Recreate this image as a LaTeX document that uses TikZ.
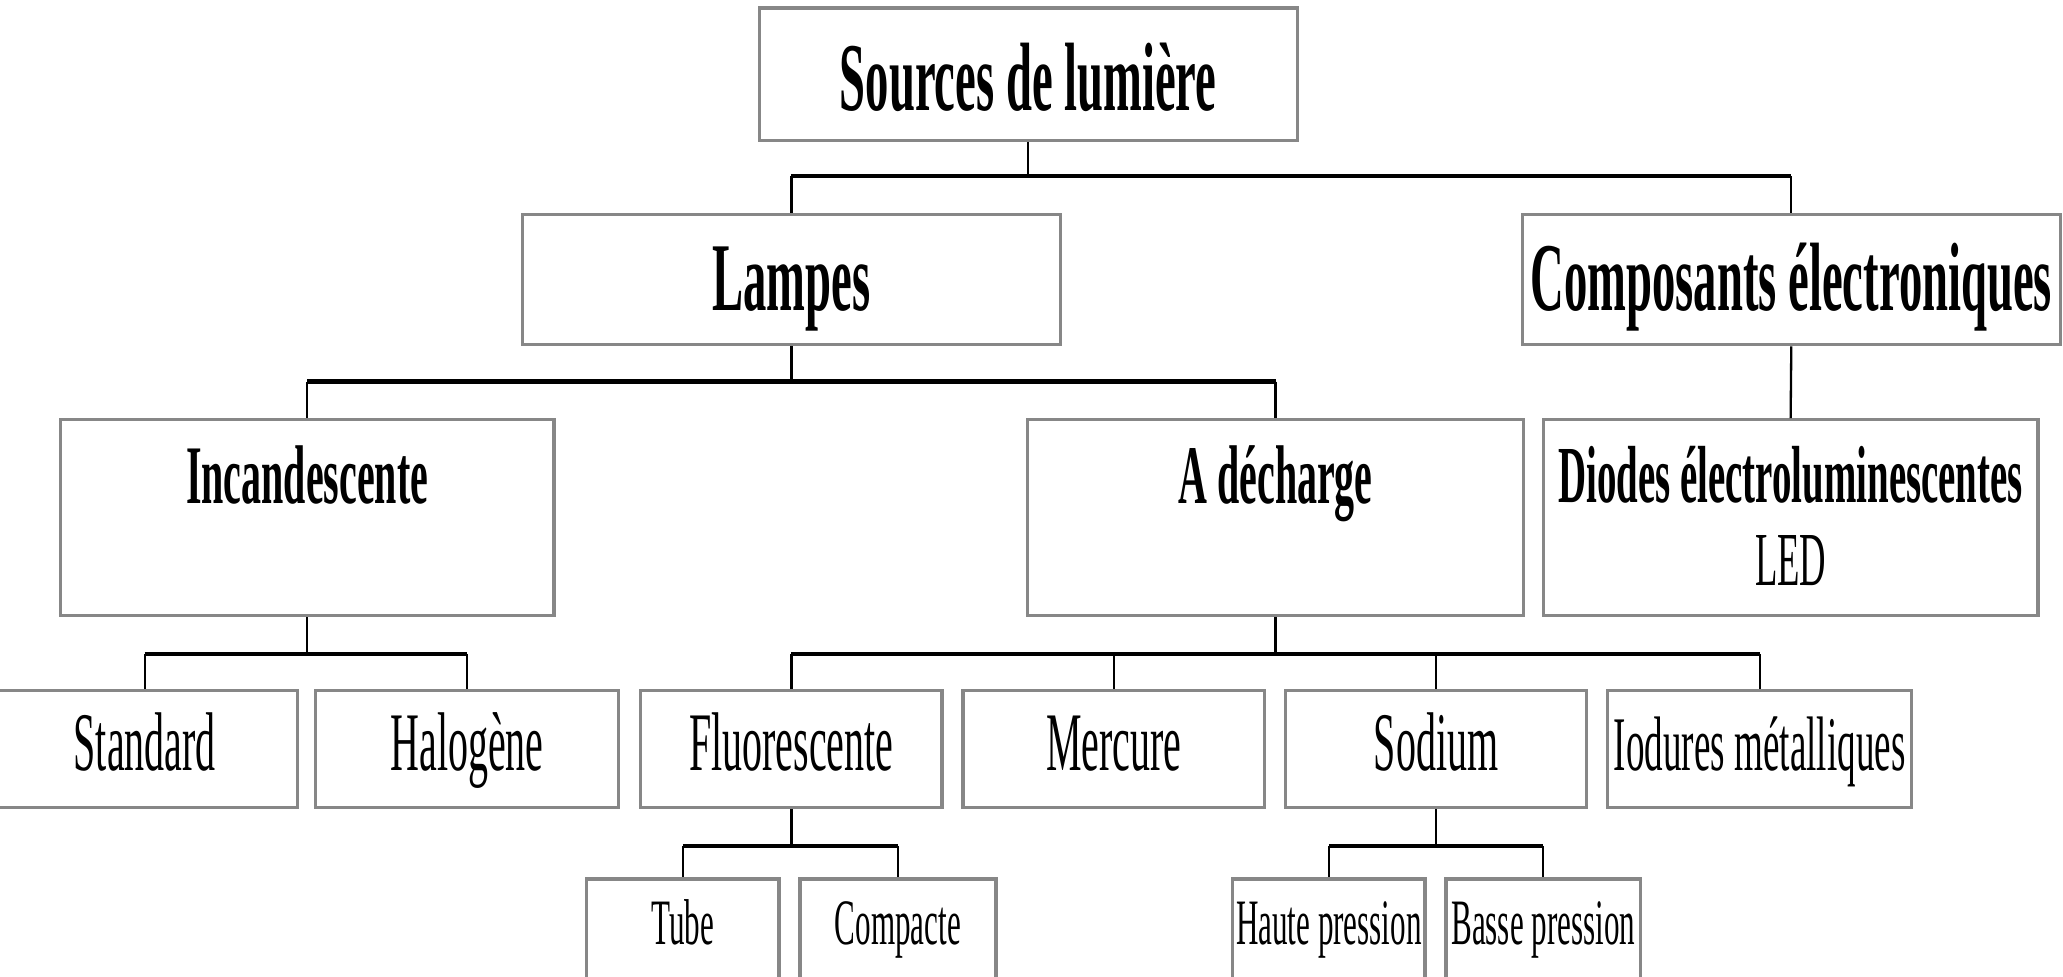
\documentclass[tikz,border=0pt]{standalone}
\usepackage{fontspec}
\newfontfamily\cf{Liberation Serif}[FakeStretch=0.48]
\definecolor{boxgray}{RGB}{135,135,135}
\begin{document}
\begin{tikzpicture}[x=0.01cm,y=-0.01cm,
  box/.style={draw=boxgray,line width=0.7pt,fill=white,inner sep=0pt,rectangle,font=\cf},
  leaf/.style={box,minimum height=89*0.01cm,text height=13pt,text depth=4pt,font=\cf\fontsize{18}{21}\selectfont},
  conn/.style={draw=black,line width=0.5pt},
  bus/.style={draw=black,line width=0.9pt},
  lab/.style={anchor=base,inner sep=0pt,font=\cf}]
\useasboundingbox (0,0) rectangle (1568,742);
\clip (0,0) rectangle (1568,742);
\fill[white] (0,0) rectangle (1568,742);
% level 0
\node[box,minimum width=409*0.01cm,minimum height=101*0.01cm] (src) at (781.5,56.5) {};
\node[lab,font=\cf\fontsize{21}{24}\selectfont\bfseries] at (781.5,84) {Sources de lumière};
% level 1
\node[box,minimum width=409*0.01cm,minimum height=99*0.01cm] (lamp) at (601.5,212.5) {};
\node[lab,font=\cf\fontsize{21}{24}\selectfont\bfseries] at (601.5,236) {Lampes};
\node[box,minimum width=409*0.01cm,minimum height=99*0.01cm] (comp) at (1361.5,212.5) {};
\node[lab,font=\cf\fontsize{21}{24}\selectfont\bfseries] at (1361.5,236) {Composants électroniques};
% level 2
\node[box,minimum width=375*0.01cm,minimum height=149*0.01cm] (inc) at (233.5,393.5) {};
\node[lab,font=\cf\fontsize{18}{21}\selectfont\bfseries] at (233.5,383) {Incandescente};
\node[box,minimum width=377*0.01cm,minimum height=149*0.01cm] (dec) at (969.5,393.5) {};
\node[lab,font=\cf\fontsize{18}{21}\selectfont\bfseries] at (969.5,383) {A décharge};
\node[box,minimum width=376*0.01cm,minimum height=149*0.01cm] (led) at (1361,393.5) {};
\node[lab,font=\cf\fontsize{17.5}{20}\selectfont\bfseries] at (1361,382) {Diodes électroluminescentes};
\node[lab,font=\cf\fontsize{16.5}{20}\selectfont] at (1361,445) {LED};
% level 3
\node[leaf,minimum width=232*0.01cm] (std) at (110,569.5) {Standard};
\node[leaf,minimum width=230*0.01cm] (hal) at (355,569.5) {Halogène};
\node[leaf,minimum width=229*0.01cm] (flu) at (601.5,569.5) {Fluorescente};
\node[leaf,minimum width=229*0.01cm] (mer) at (846.5,569.5) {Mercure};
\node[leaf,minimum width=229*0.01cm] (sod) at (1091.5,569.5) {Sodium};
\node[leaf,minimum width=231*0.01cm,font=\cf\fontsize{16.7}{20}\selectfont] (iod) at (1337.5,569.5) {Iodures métalliques};
% level 4
\node[box,minimum width=146*0.01cm,minimum height=100*0.01cm] (tub) at (519,718) {};
\node[lab,font=\cf\fontsize{14}{17}\selectfont] at (519,718) {Tube};
\node[box,minimum width=149*0.01cm,minimum height=100*0.01cm] (cpt) at (682.5,718) {};
\node[lab,font=\cf\fontsize{14}{17}\selectfont] at (682.5,718) {Compacte};
\node[box,minimum width=146*0.01cm,minimum height=100*0.01cm] (hau) at (1010,718) {};
\node[lab,font=\cf\fontsize{14}{17}\selectfont] at (1010,718) {Haute pression};
\node[box,minimum width=148*0.01cm,minimum height=100*0.01cm] (bas) at (1173,718) {};
\node[lab,font=\cf\fontsize{14}{17}\selectfont] at (1173,718) {Basse pression};
% bus levels
\coordinate (y1) at (0,134);
\coordinate (y2) at (0,290);
\coordinate (y3) at (0,497);
\coordinate (y4) at (0,643);
% connectors level 0 -> 1
\draw[conn] (src.south) -- (src.south |- y1);
\draw[bus] (lamp.north |- y1) -- (comp.north |- y1);
\draw[conn] (lamp.north |- y1) -- (lamp.north);
\draw[conn] (comp.north |- y1) -- (comp.north);
% lampes -> inc, dec
\draw[conn] (lamp.south) -- (lamp.south |- y2);
\draw[bus] (inc.north |- y2) -- (dec.north |- y2);
\draw[conn] (inc.north |- y2) -- (inc.north);
\draw[conn] (dec.north |- y2) -- (dec.north);
% composants -> led
\draw[conn] (comp.south) -- (led.north);
% inc -> std, hal
\draw[conn] (inc.south) -- (inc.south |- y3);
\draw[bus] (std.north |- y3) -- (hal.north |- y3);
\draw[conn] (std.north |- y3) -- (std.north);
\draw[conn] (hal.north |- y3) -- (hal.north);
% dec -> flu, mer, sod, iod
\draw[conn] (dec.south) -- (dec.south |- y3);
\draw[bus] (flu.north |- y3) -- (iod.north |- y3);
\draw[conn] (flu.north |- y3) -- (flu.north);
\draw[conn] (mer.north |- y3) -- (mer.north);
\draw[conn] (sod.north |- y3) -- (sod.north);
\draw[conn] (iod.north |- y3) -- (iod.north);
% flu -> tub, cpt
\draw[conn] (flu.south) -- (flu.south |- y4);
\draw[bus] (tub.north |- y4) -- (cpt.north |- y4);
\draw[conn] (tub.north |- y4) -- (tub.north);
\draw[conn] (cpt.north |- y4) -- (cpt.north);
% sod -> hau, bas
\draw[conn] (sod.south) -- (sod.south |- y4);
\draw[bus] (hau.north |- y4) -- (bas.north |- y4);
\draw[conn] (hau.north |- y4) -- (hau.north);
\draw[conn] (bas.north |- y4) -- (bas.north);
\end{tikzpicture}
\end{document}
